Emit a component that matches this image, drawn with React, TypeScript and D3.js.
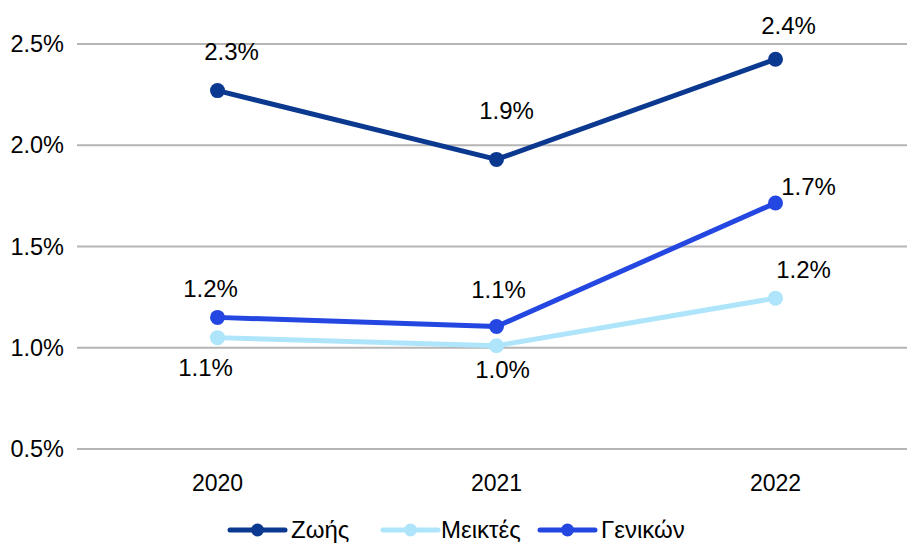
import React from "react";
import * as d3 from "d3";

const years = ["2020", "2021", "2022"];
const seriesNames = ["Ζωής", "Μεικτές", "Γενικών"];
const zoes = [2.27, 1.93, 2.425];
const meiktes = [1.05, 1.01, 1.245];
const genikon = [1.15, 1.105, 1.715];
const zoesLabels = ["2.3%", "1.9%", "2.4%"];
const meiktesLabels = ["1.1%", "1.0%", "1.2%"];
const genikonLabels = ["1.2%", "1.1%", "1.7%"];
const yTicks = [0.5, 1.0, 1.5, 2.0, 2.5];

const colors = ["#0b3990", "#aee5fa", "#2447e2"];
// label offsets (dx, dy of text centre relative to point)
const labelOffsets = [
  [[14, -39], [10, -49], [13, -34]],
  [[-12, 30], [6, 24], [28, -29]],
  [[-7, -29], [2, -37], [33, -16]],
];

export default function App() {
  const W = 907, H = 545;
  const x = d3.scaleBand().domain(years).range([78, 915]);
  const y = d3.scaleLinear().domain([0.5, 2.5]).range([449, 44]);
  const data = [zoes, meiktes, genikon];
  const labels = [zoesLabels, meiktesLabels, genikonLabels];
  const cx = (yr: string) => (x(yr) as number) + x.bandwidth() / 2;
  const line = d3.line<number>().x((_, i) => cx(years[i])).y((d) => y(d));
  const font = "'Liberation Sans', Arial, Helvetica, sans-serif";
  const legendX = [230, 383, 540];
  const legendTextX = [291, 441, 601];
  return (
    <svg width={W} height={H} style={{ position: "absolute", left: 0, top: 0 }} fontFamily={font}>
      <rect width={W} height={H} fill="#fff" />
      {yTicks.map((t) => (
        <g key={t}>
          <line x1={77} x2={907} y1={y(t)} y2={y(t)} stroke="#b5b5b5" strokeWidth={2} />
          <text x={64} y={y(t)} dy="0.35em" textAnchor="end" fontSize={23.5} fill="#000">
            {d3.format(".1f")(t)}%
          </text>
        </g>
      ))}
      {years.map((yr) => (
        <text key={yr} x={cx(yr)} y={483} dy="0.35em" textAnchor="middle" fontSize={23} fill="#000">
          {yr}
        </text>
      ))}
      {data.map((s, si) => (
        <g key={si}>
          <path d={line(s) || ""} fill="none" stroke={colors[si]} strokeWidth={5} strokeLinejoin="round" />
          {s.map((v, i) => (
            <circle key={i} cx={cx(years[i])} cy={y(v)} r={7.5} fill={colors[si]} />
          ))}
        </g>
      ))}
      {data.map((s, si) =>
        s.map((v, i) => (
          <text
            key={`${si}-${i}`}
            x={cx(years[i]) + labelOffsets[si][i][0]}
            y={y(v) + labelOffsets[si][i][1]}
            dy="0.35em"
            textAnchor="middle"
            fontSize={24}
            fill="#000"
          >
            {labels[si][i]}
          </text>
        ))
      )}
      {seriesNames.map((n, i) => (
        <g key={n}>
          <line x1={legendX[i]} x2={legendX[i] + 55} y1={530} y2={530} stroke={colors[i]} strokeWidth={5} strokeLinecap="round" />
          <circle cx={legendX[i] + 27.5} cy={530} r={6.5} fill={colors[i]} />
          <text x={legendTextX[i]} y={530} dy="0.35em" fontSize={24} fill="#000">
            {n}
          </text>
        </g>
      ))}
    </svg>
  );
}
